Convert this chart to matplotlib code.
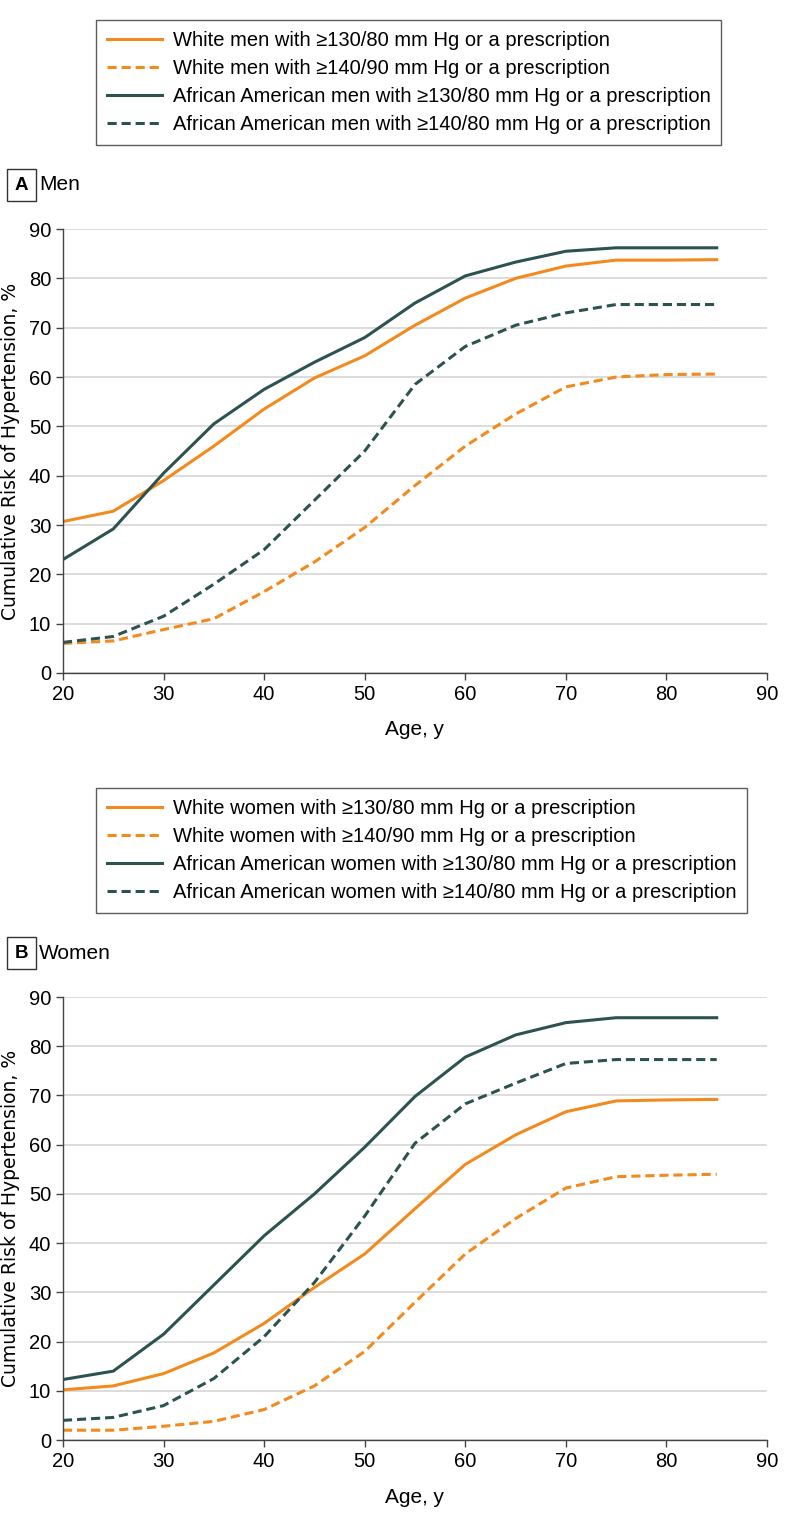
import matplotlib
matplotlib.use('Agg')
import matplotlib.pyplot as plt
from matplotlib.lines import Line2D

ORANGE = '#F28A1E'
TEAL = '#2D5350'
GRID = '#d9d9d9'
NARROW = ['Liberation Sans', 'DejaVu Sans']

ages = [20, 25, 30, 35, 40, 45, 50, 55, 60, 65, 70, 75, 80, 85]

# Panel A: men
men_white_130 = [30.7, 32.8, 39.0, 46.0, 53.5, 59.8, 64.3, 70.5, 76.0, 80.0, 82.5, 83.7, 83.7, 83.8]
men_white_140 = [6.0, 6.5, 8.8, 11.0, 16.5, 22.5, 29.5, 38.0, 46.0, 52.5, 58.0, 60.0, 60.5, 60.6]
men_aa_130 = [23.0, 29.2, 40.5, 50.5, 57.5, 63.0, 68.0, 75.0, 80.5, 83.3, 85.5, 86.2, 86.2, 86.2]
men_aa_140 = [6.2, 7.4, 11.5, 18.0, 25.0, 35.0, 45.0, 58.5, 66.2, 70.5, 73.0, 74.7, 74.7, 74.7]

# Panel B: women
women_white_130 = [10.2, 11.0, 13.5, 17.7, 23.7, 31.0, 37.8, 47.0, 56.0, 62.0, 66.7, 68.9, 69.1, 69.2]
women_white_140 = [2.0, 2.0, 2.8, 3.8, 6.2, 11.0, 18.0, 28.0, 37.8, 45.0, 51.2, 53.5, 53.8, 54.0]
women_aa_130 = [12.3, 14.0, 21.5, 31.5, 41.5, 50.0, 59.5, 69.8, 77.8, 82.3, 84.8, 85.8, 85.8, 85.8]
women_aa_140 = [4.0, 4.6, 7.0, 12.5, 21.0, 32.0, 45.5, 60.3, 68.3, 72.5, 76.5, 77.3, 77.3, 77.3]

men_labels = ['White men with \u2265130/80 mm Hg or a prescription',
              'White men with \u2265140/90 mm Hg or a prescription',
              'African American men with \u2265130/80 mm Hg or a prescription',
              'African American men with \u2265140/80 mm Hg or a prescription']
women_labels = ['White women with \u2265130/80 mm Hg or a prescription',
                'White women with \u2265140/90 mm Hg or a prescription',
                'African American women with \u2265130/80 mm Hg or a prescription',
                'African American women with \u2265140/80 mm Hg or a prescription']

styles = [(ORANGE, '-'), (ORANGE, (0, (3, 1.6))), (TEAL, '-'), (TEAL, (0, (3, 1.6)))]


def draw_panel(fig, rect, series, labels, legend_anchor, letter, title, title_y):
    ax = fig.add_axes(rect)
    for vals, (col, ls) in zip(series, styles):
        ax.plot(ages, vals, color=col, linestyle=ls, lw=2.2)
    ax.set_xlim(20, 90)
    ax.set_ylim(0, 90)
    ax.set_xticks(range(20, 91, 10))
    ax.set_yticks(range(0, 91, 10))
    ax.yaxis.grid(True, color=GRID, lw=1.3)
    ax.set_axisbelow(True)
    for s in ['top', 'right']:
        ax.spines[s].set_visible(False)
    for s in ['left', 'bottom']:
        ax.spines[s].set_color('#444444')
        ax.spines[s].set_linewidth(1.0)
    ax.tick_params(axis='both', colors='#444444', labelcolor='black', length=5, width=1.0,
                   labelsize=14.5)
    for lab in ax.get_xticklabels() + ax.get_yticklabels():
        lab.set_family(NARROW)
    ax.set_xlabel('Age, y', fontsize=15, family=NARROW, labelpad=12)
    ax.set_ylabel('Cumulative Risk of Hypertension, %', fontsize=13.5, family='DejaVu Sans', labelpad=6)

    handles = [Line2D([], [], color=c, linestyle=ls, lw=2.2) for c, ls in styles]
    leg = fig.legend(handles, labels, loc='upper left', bbox_to_anchor=legend_anchor,
                     prop={'family': NARROW, 'size': 14.5}, frameon=True, fancybox=False,
                     edgecolor='#333333', handlelength=2.7, handletextpad=0.55,
                     borderpad=0.55, labelspacing=0.45, borderaxespad=0)
    leg.get_frame().set_linewidth(1.0)

    fig.text(0.027, title_y, letter, fontsize=13.5, fontweight='bold', family=NARROW,
             ha='center', va='center',
             bbox=dict(boxstyle='square,pad=0.4', fc='white', ec='#333333', lw=1.0))
    fig.text(0.049, title_y, title, fontsize=15, family=NARROW, ha='left', va='center')
    return ax


fig = plt.figure(figsize=(7.94, 15.25), dpi=100)

draw_panel(fig, [0.0793, 0.5587, 0.8867, 0.2911],
           [men_white_130, men_white_140, men_aa_130, men_aa_140],
           men_labels, (0.121, 1 - 20 / 1525), 'A', 'Men', 1 - 185 / 1525)
draw_panel(fig, [0.0793, 0.0557, 0.8867, 0.2905],
           [women_white_130, women_white_140, women_aa_130, women_aa_140],
           women_labels, (0.121, 1 - 788 / 1525), 'B', 'Women', 1 - 953 / 1525)

fig.savefig('out.png', dpi=100)
